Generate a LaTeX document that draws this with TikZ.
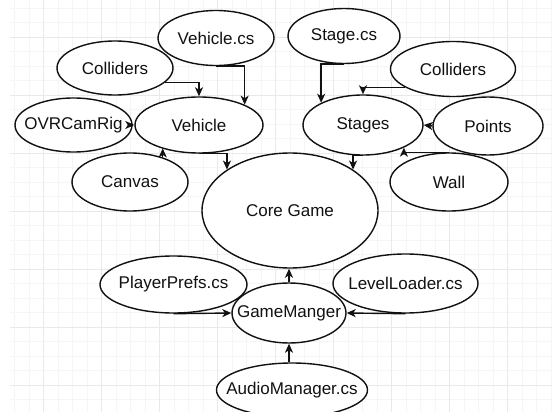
\documentclass[tikz,border=0pt]{standalone}
\usepackage{fontspec}
\setmainfont{Liberation Sans}
\usepackage{xcolor}
\usetikzlibrary{arrows.meta,shapes.geometric}
\definecolor{gridminor}{HTML}{F5F5F5}
\definecolor{gridmajor}{HTML}{E9E9E9}
\definecolor{ink}{HTML}{111111}

\begin{document}
\begin{tikzpicture}[x=1pt, y=-1pt,
  ell/.style={draw=ink, ellipse, line width=1.4pt, fill=white, text=ink,
              font=\fontsize{17}{20}\selectfont, inner xsep=-30pt, inner ysep=0pt},
  arr/.style={draw=ink, line width=1.4pt, -{Stealth[length=9pt, width=8pt, inset=2.5pt]}},
  minorline/.style={draw=gridminor, line width=0.8pt},
  majorline/.style={draw=gridmajor, line width=0.8pt}]
\useasboundingbox (0,0) rectangle (552,412);
\fill[white] (0,0) rectangle (552,412);
\foreach \i in {1,...,38} \draw[minorline] ({\i*14.5},0) -- ({\i*14.5},412);
\foreach \j in {-1,...,26} \draw[minorline] (10,{385-\j*14.5}) -- (552,{385-\j*14.5});
\foreach \i in {0,...,8} \draw[majorline] ({43.5+\i*58},0) -- ({43.5+\i*58},412);
\foreach \j in {0,...,6} \draw[majorline] (10,{385-\j*58}) -- (552,{385-\j*58});

\node[ell, minimum width=116pt, minimum height=55pt] (vcs) at (216,38) {Vehicle.cs};
\node[ell, minimum width=116pt, minimum height=54pt] (colL) at (115,68) {Colliders};
\node[ell, minimum width=117pt, minimum height=54pt] (ovr) at (73.5,125) {OVRCamRig};
\node[ell, minimum width=128pt, minimum height=56pt] (veh) at (199,125) {Vehicle};
\node[ell, minimum width=116pt, minimum height=58pt] (canvas) at (130,182) {Canvas};
\node[ell, minimum width=112pt, minimum height=55pt] (stcs) at (344,36) {Stage.cs};
\node[ell, minimum width=125pt, minimum height=55pt] (colR) at (453,69) {Colliders};
\node[ell, minimum width=120pt, minimum height=60pt] (stages) at (363,125) {Stages};
\node[ell, minimum width=110pt, minimum height=58pt] (points) at (488,126) {Points};
\node[ell, minimum width=118pt, minimum height=58pt] (wall) at (449,182) {Wall};
\node[ell, minimum width=176pt, minimum height=115pt] (core) at (290,210.5) {Core Game};
\node[ell, minimum width=147pt, minimum height=57pt] (pp) at (173.5,284.5) {PlayerPrefs.cs};
\node[ell, minimum width=145pt, minimum height=59pt] (ll) at (405.5,283.5) {LevelLoader.cs};
\node[ell, minimum width=114pt, minimum height=60pt] (gm) at (289,313) {GameManger};
\node[ell, minimum width=151pt, minimum height=54pt] (am) at (292,390) {AudioManager.cs};

\draw[arr] (colL.-16) -| (veh.north);
\draw[arr] (vcs.south) -| (veh.24);
\draw[arr] (ovr.east) -- (veh.west);
\draw[arr] (canvas.37) -- (canvas.37 |- veh.212);
\draw[arr] (veh.south) -| (core.147);
\draw[arr] (stcs.south) -| (stages.152);
\draw[arr] (colR.201) -| (stages.north);
\draw[arr] (points.west) -- (stages.east);
\draw[arr] (wall.north) -| (stages.-29);
\draw[arr] (stages.south) -| (core.33);
\draw[arr] (pp.south) -- (gm.west);
\draw[arr] (ll.south) -- (gm.east);
\draw[arr] (gm.north) -- (gm.north |- core.south);
\draw[arr] (am.north -| gm.south) -- (gm.south);
\end{tikzpicture}
\end{document}
